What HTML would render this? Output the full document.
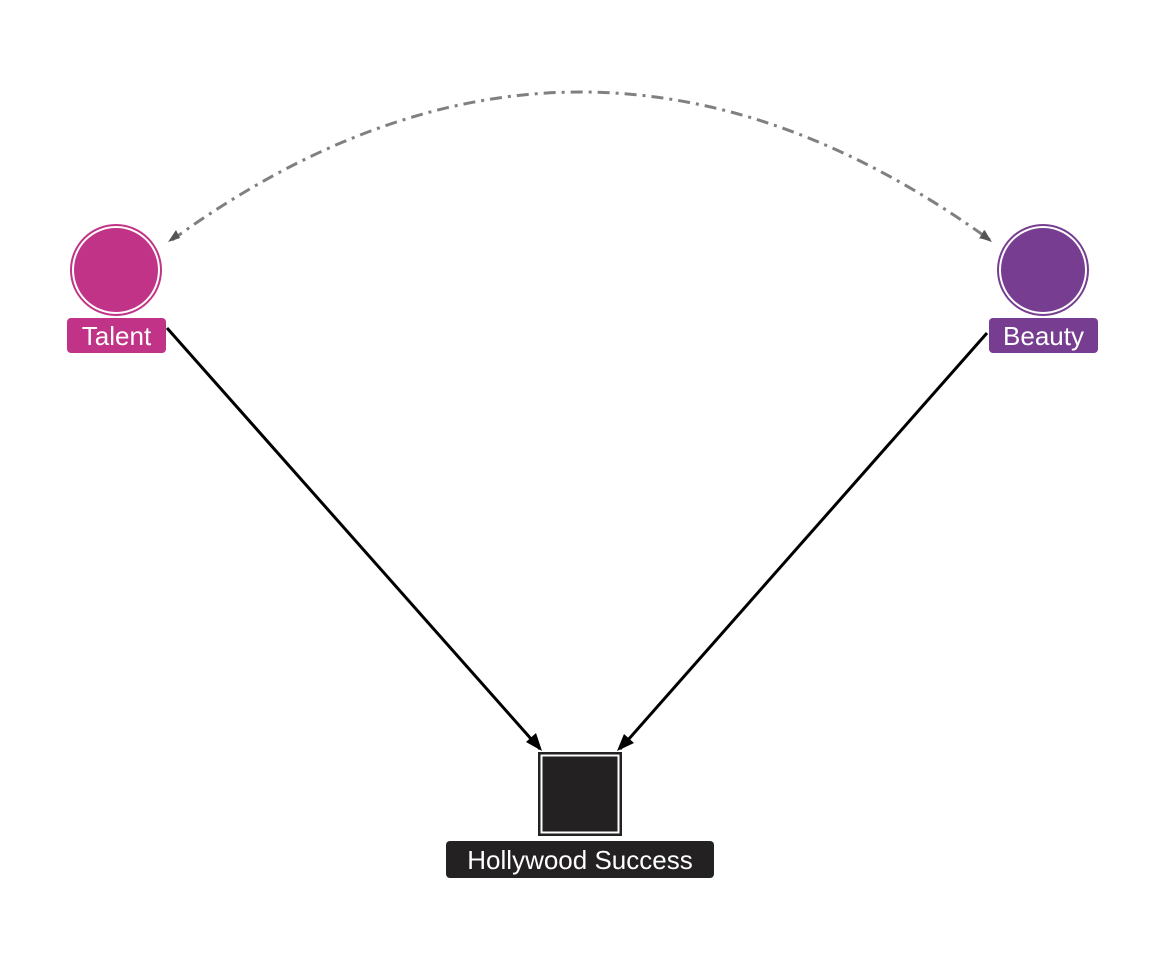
<!DOCTYPE html>
<html><head><style>
html,body{margin:0;padding:0;background:#fff;width:1152px;height:960px;overflow:hidden}
svg{display:block}
text{font-family:"Liberation Sans",sans-serif;fill:#fff}
</style></head><body>
<svg width="1152" height="960" viewBox="0 0 1152 960">
<defs>
<marker id="a" markerWidth="10" markerHeight="10" refX="9" refY="5" orient="auto" markerUnits="userSpaceOnUse" viewBox="0 0 10 10">
<path d="M0,0 L10,5 L0,10 z" fill="#000" transform="scale(1)"/>
</marker>
<marker id="g" markerWidth="12" markerHeight="12" refX="10" refY="6" orient="auto" markerUnits="userSpaceOnUse" viewBox="0 0 12 12">
<path d="M0,1 L11,6 L0,11 z" fill="#666"/>
</marker>
</defs>
<path d="M172,240 Q580,-56 990,240" fill="none" stroke="#808080" stroke-width="3" stroke-dasharray="12,6,3,6" marker-start="url(#g)" marker-end="url(#g)" style="marker-start:none"/>
<path d="M176,238 l-6,4" stroke="#666" stroke-width="0" />
<polygon points="168,242 180,238 176,230" fill="#555"/>
<polygon points="992,242 980,238 984,230" fill="#555"/>
<line x1="167" y1="328" x2="540" y2="749" stroke="#000" stroke-width="3"/>
<polygon points="542,751 526,742 536,733" fill="#000"/>
<line x1="987" y1="333" x2="620" y2="749" stroke="#000" stroke-width="3"/>
<polygon points="617,751 624,734 634,743" fill="#000"/>
<circle cx="116" cy="270" r="46" fill="#c13386"/>
<circle cx="116" cy="270" r="43" fill="none" stroke="#fff" stroke-width="2"/>
<circle cx="1043" cy="270" r="46" fill="#763d90"/>
<circle cx="1043" cy="270" r="43" fill="none" stroke="#fff" stroke-width="2"/>
<rect x="538" y="752" width="84" height="84" fill="#232122"/>
<rect x="541.5" y="755.5" width="77" height="77" fill="none" stroke="#fff" stroke-width="2"/>
<rect x="67" y="318" width="99" height="35" rx="4" fill="#c13386"/>
<text x="116.5" y="345" font-size="26" text-anchor="middle">Talent</text>
<rect x="989" y="318" width="109" height="35" rx="4" fill="#763d90"/>
<text x="1043.5" y="345" font-size="26" text-anchor="middle">Beauty</text>
<rect x="446" y="841" width="268" height="37" rx="4" fill="#232122"/>
<text x="580" y="869" font-size="26" text-anchor="middle">Hollywood Success</text>
</svg>
</body></html>
